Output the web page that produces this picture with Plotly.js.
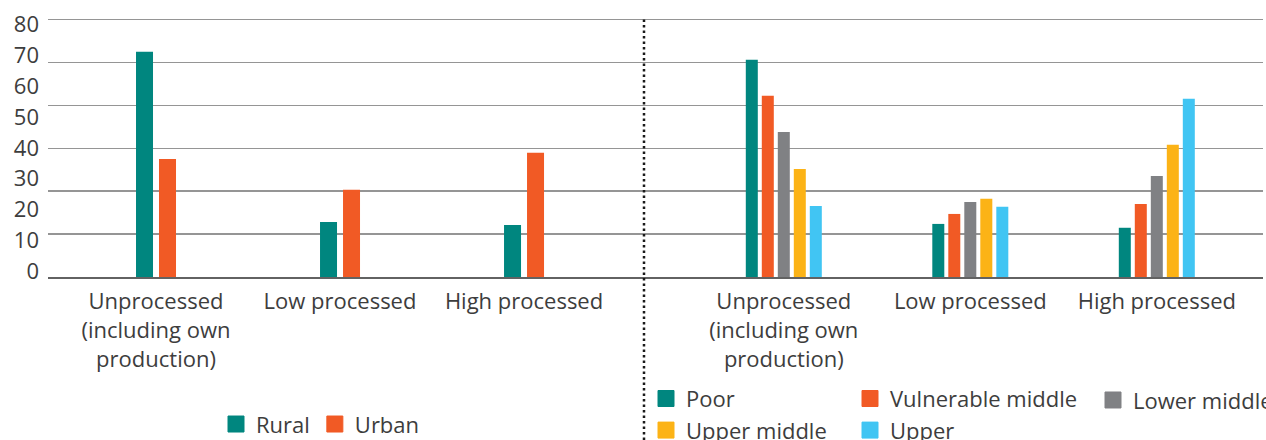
<!DOCTYPE html>
<html><head><meta charset="utf-8">
<script src="https://cdn.plot.ly/plotly-3.0.1.min.js"></script>
<style>html,body{margin:0;padding:0;background:#fff}#chart{width:1266px;height:440px}</style>
</head><body><div id="chart"></div>
<script>
// ---- data ----
const categories = ["Unprocessed (including own production)", "Low processed", "High processed"];
const categoryTickLabels = ["Unprocessed<br>(including own<br>production)", "Low processed", "High processed"];
const yTickValues = [0, 10, 20, 30, 40, 50, 60, 70, 80];

const locationNames = ["Rural", "Urban"];
const rural = [70.0, 17.1, 16.2];
const urban = [36.7, 27.1, 38.6];

const classNames = ["Poor", "Vulnerable middle", "Lower middle", "Upper middle", "Upper"];
const poor = [67.5, 16.5, 15.3];
const vulnerableMiddle = [56.3, 19.6, 22.7];
const lowerMiddle = [45.1, 23.3, 31.4];
const upperMiddle = [33.6, 24.3, 41.1];
const upper = [22.1, 21.8, 55.4];

// ---- styles ----
const locationColors = ["#00867f", "#f15a25"];
const classColors = ["#00867f", "#f15a25", "#808184", "#fcb316", "#41c5f3"];
const locationSeries = [rural, urban];
const classSeries = [poor, vulnerableMiddle, lowerMiddle, upperMiddle, upper];
const leftOffsets = [-0.1087, 0.0163];
const leftWidth = 0.0924;
const classLegends = ["legend2", "legend3", "legend4", "legend2", "legend3"];

const yMax = 80.5;                       // a little headroom so the top gridline is drawn
const plotLeft = 48, plotRight = 1263, plotBottom = 277, gridTop = 20;
const plotH = (plotBottom - gridTop) * yMax / 80;
const plotTop = plotBottom - plotH;
const plotW = plotRight - plotLeft;
const split = (644 - plotLeft) / plotW;
const px = v => (v - plotLeft) / plotW;
const py = v => (plotBottom - v) / plotH;

const traces = [];
locationSeries.forEach((s, i) => {
  traces.push({type: "bar", name: locationNames[i], x: categories, y: s, xaxis: "x", yaxis: "y",
    marker: {color: locationColors[i]}, width: leftWidth, offset: leftOffsets[i], showlegend: false, hoverinfo: "y+name"});
});
classSeries.forEach((s, i) => {
  traces.push({type: "bar", name: classNames[i], x: categories, y: s, xaxis: "x2", yaxis: "y",
    marker: {color: classColors[i]}, showlegend: false, hoverinfo: "y+name"});
});
// legend entries
locationNames.forEach((n, i) => {
  traces.push({type: "scatter", mode: "markers", name: n, x: [null], y: [null], xaxis: "x", yaxis: "y2",
    marker: {symbol: "square", size: 16, color: locationColors[i], line: {width: 1, color: locationColors[i]}},
    legend: "legend", hoverinfo: "skip"});
});
classNames.forEach((n, i) => {
  traces.push({type: "scatter", mode: "markers", name: n, x: [null], y: [null], xaxis: "x2", yaxis: "y",
    marker: {symbol: "square", size: 16, color: classColors[i], line: {width: 1, color: classColors[i]}},
    legend: classLegends[i], legendgroup: n, hoverinfo: "skip"});
});

const font = {family: "Open Sans", size: 22, color: "#3d3d3d"};
const xCommon = {type: "category", tickmode: "array", tickvals: categories, ticktext: categoryTickLabels,
  showline: true, linecolor: "#626262", linewidth: 2, ticks: "", showgrid: false, zeroline: false,
  ticklabelstandoff: 4, tickfont: font, fixedrange: true, anchor: "y"};
const legendCommon = {font: font, bgcolor: "rgba(0,0,0,0)", borderwidth: 0, xref: "paper", yref: "paper",
  xanchor: "left", yanchor: "middle", tracegroupgap: 0};

// y tick label axis: 0 sits at pixel 271, 80 at pixel 25
const labelScale = (271 - 25) / 80;
const y2Range = [-(plotBottom - 271) / labelScale, (271 - plotTop) / labelScale];

const layout = {
  width: 1266, height: 440,
  margin: {l: plotLeft, r: 1266 - plotRight, t: plotTop, b: 440 - plotBottom, autoexpand: false},
  paper_bgcolor: "#ffffff", plot_bgcolor: "rgba(0,0,0,0)",
  font: font,
  barmode: "group", bargap: 0.571, bargroupgap: 0.25,
  showlegend: true,
  xaxis: Object.assign({}, xCommon, {domain: [0, split], range: [-0.587, 2.652]}),
  xaxis2: Object.assign({}, xCommon, {domain: [split, 1], range: [-0.7496, 2.5694]}),
  yaxis: {range: [0, yMax], tick0: 0, dtick: 80 / 6, showticklabels: false, showgrid: true,
    gridcolor: "#959595", gridwidth: 1.5, zeroline: false, ticks: "", fixedrange: true},
  yaxis2: {overlaying: "y", side: "left", anchor: "x", range: y2Range, tickmode: "array",
    tickvals: yTickValues, showgrid: false, zeroline: false, ticks: "", ticklabelstandoff: 8,
    tickfont: font, fixedrange: true},
  legend: Object.assign({}, legendCommon, {orientation: "h", x: px(216), y: py(424)}),
  legend2: Object.assign({}, legendCommon, {orientation: "v", x: px(646), y: py(414.5)}),
  legend3: Object.assign({}, legendCommon, {orientation: "v", x: px(850), y: py(414.5)}),
  legend4: Object.assign({}, legendCommon, {orientation: "v", x: px(1093), y: py(400)}),
  shapes: [{type: "line", xref: "paper", yref: "paper", x0: split, x1: split, y0: py(gridTop), y1: py(440),
    line: {color: "#1a1a1a", width: 2.5, dash: "2.5px,3px"}}]
};

Plotly.newPlot("chart", traces, layout, {displayModeBar: false, staticPlot: true});
</script>
</body></html>
